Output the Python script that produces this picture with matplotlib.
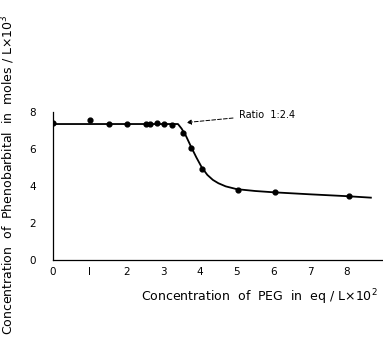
import matplotlib
matplotlib.use("Agg")
from matplotlib import pyplot as plt

# measured points
peg_conc = [0, 1.02, 1.52, 2.02, 2.53, 2.64, 2.84, 3.03, 3.23, 3.55, 3.75, 4.05, 5.03, 6.05, 8.05]
pheno_conc = [7.4, 7.55, 7.37, 7.37, 7.37, 7.37, 7.43, 7.35, 7.3, 6.89, 6.07, 4.93, 3.8, 3.66, 3.44]

# hand-drawn fitted curve
curve_x = [0, 3.4, 3.5, 3.62, 3.75, 3.9, 4.05, 4.2, 4.35, 4.5, 4.7, 5.0, 5.5, 6.0, 7.0, 8.0, 8.65]
curve_y = [7.35, 7.35, 7.1, 6.7, 6.15, 5.55, 5.0, 4.6, 4.33, 4.15, 3.98, 3.83, 3.73, 3.66, 3.55, 3.45, 3.37]

x_ticks = [0, 1, 2, 3, 4, 5, 6, 7, 8]
x_ticklabels = ["0", "I", "2", "3", "4", "5", "6", "7", "8"]
y_ticks = [0, 2, 4, 6, 8]


def main():
    f = plt.figure(figsize=[3.83, 3.45], dpi=100)
    ax = f.add_axes([53 / 383, 85 / 345, 330 / 383, 148 / 345])
    ax.plot(curve_x, curve_y, color="black", lw=1.3)
    ax.scatter(peg_conc, pheno_conc, color="black", s=12, zorder=3)
    ax.set_xlim(0, 8.98)
    ax.set_ylim(0, 8)
    for s in ("top", "right"):
        ax.spines[s].set_visible(False)
    for s in ("left", "bottom"):
        ax.spines[s].set_linewidth(0.9)
    ax.set_xticks(x_ticks)
    ax.set_xticklabels(x_ticklabels)
    ax.set_yticks(y_ticks)
    ax.tick_params(length=0, labelsize=7.5)
    ax.tick_params(axis="y", pad=12)
    ax.tick_params(axis="x", pad=5)

    ax.annotate(
        "Ratio  1:2.4",
        xy=(3.63, 7.43),
        xytext=(5.05, 7.85),
        fontsize=7,
        va="center",
        arrowprops=dict(arrowstyle="-|>", linestyle=(0, (4, 2)), lw=0.7, color="black",
                        shrinkA=2, shrinkB=0, mutation_scale=7),
    )

    f.text(378 / 383, 1 - 297 / 345, "Concentration  of  PEG  in  eq / L×10$^2$",
           ha="right", va="center", fontsize=9)
    f.text(8 / 383, 1 - 175 / 345, "Concentration  of  Phenobarbital  in  moles / L×10$^3$",
           ha="center", va="center", rotation=90, fontsize=9)

    f.savefig("out.png", dpi=100)


if __name__ == "__main__":
    main()
